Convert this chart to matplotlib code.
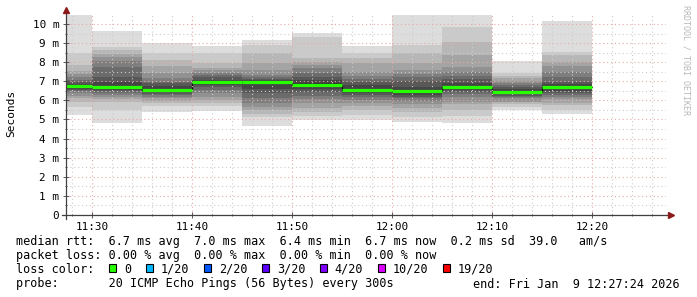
import numpy as np
import matplotlib
matplotlib.use('Agg')
import matplotlib.pyplot as plt
import matplotlib.dates as mdates
from matplotlib.ticker import MultipleLocator, FuncFormatter
from matplotlib.patches import Rectangle
from datetime import datetime, timedelta

t_start = datetime(2026, 1, 9, 11, 27, 24)
t_end = datetime(2026, 1, 9, 12, 27, 24)

# each 300s step ends at these times
bar_end = ['11:30', '11:35', '11:40', '11:45', '11:50', '11:55',
           '12:00', '12:05', '12:10', '12:15', '12:20']
median_ms = [6.74, 6.70, 6.54, 6.95, 6.98, 6.81, 6.53, 6.48, 6.69, 6.42, 6.69]

# 20 sorted ping rtts (ms) per step
pings = [
    [5.24, 5.67, 5.90, 6.11, 6.25, 6.37, 6.48, 6.55, 6.62, 6.70, 6.78, 6.85, 6.95, 7.05, 7.24, 7.40, 7.55, 7.85, 8.47, 10.8],
    [4.80, 5.50, 5.93, 6.05, 6.20, 6.30, 6.40, 6.48, 6.56, 6.64, 6.76, 6.98, 7.20, 7.77, 8.05, 8.29, 8.45, 8.64, 8.81, 9.63],
    [5.41, 5.70, 5.85, 5.95, 6.10, 6.20, 6.30, 6.36, 6.42, 6.47, 6.62, 6.75, 6.89, 6.98, 7.16, 7.42, 7.80, 8.12, 8.47, 8.99],
    [5.45, 5.69, 5.85, 6.00, 6.20, 6.40, 6.55, 6.68, 6.80, 6.90, 6.98, 7.07, 7.20, 7.33, 7.45, 7.59, 7.70, 7.94, 8.47, 8.87],
    [4.68, 5.15, 5.30, 5.50, 5.65, 5.85, 6.10, 6.40, 6.60, 6.90, 7.00, 7.05, 7.10, 7.20, 7.33, 7.59, 7.94, 8.47, 8.90, 9.16],
    [4.97, 5.20, 5.40, 5.60, 5.85, 6.05, 6.25, 6.45, 6.60, 6.72, 6.90, 7.07, 7.25, 7.45, 7.68, 7.85, 8.03, 8.20, 9.30, 9.55],
    [4.97, 5.25, 5.50, 5.70, 5.85, 6.00, 6.20, 6.30, 6.38, 6.46, 6.60, 6.80, 6.98, 7.10, 7.28, 7.50, 7.98, 8.20, 8.47, 8.86],
    [4.89, 5.15, 5.40, 5.60, 5.80, 5.95, 6.10, 6.20, 6.30, 6.40, 6.55, 6.72, 7.00, 7.24, 7.40, 7.59, 7.94, 8.50, 8.90, 10.8],
    [4.83, 5.20, 5.50, 5.80, 5.93, 6.20, 6.35, 6.45, 6.55, 6.62, 6.75, 6.90, 7.10, 7.30, 7.50, 7.77, 8.38, 9.07, 9.86, 10.8],
    [5.50, 5.65, 5.80, 5.90, 5.93, 6.10, 6.18, 6.25, 6.32, 6.38, 6.47, 6.58, 6.70, 6.80, 6.90, 7.00, 7.15, 7.30, 7.45, 8.06],
    [5.29, 5.50, 5.75, 5.85, 6.05, 6.20, 6.28, 6.40, 6.50, 6.62, 6.75, 6.85, 6.98, 7.20, 7.50, 7.80, 8.03, 8.40, 8.55, 10.16],
]

loss_labels = ['0', '1/20', '2/20', '3/20', '4/20', '10/20', '19/20']
loss_colors = ['#26ff00', '#00b8ff', '#0059ff', '#5e00ff', '#7e00ff', '#dd00ff', '#ff0000']

W, H = 697, 297
fig = plt.figure(figsize=(W / 100, H / 100), dpi=100)
fig.patch.set_facecolor('white')
ax = fig.add_axes([66 / W, (H - 215) / H, 600 / W, 200 / H])

ends = [datetime.strptime(s, '%H:%M').replace(year=2026, month=1, day=9) for s in bar_end]
edges = [ends[0] - timedelta(minutes=5)] + ends
xe = mdates.date2num(edges)
P = np.array(pings)

# smoke: nested bands, lightest outside
half = 10
for k in range(1, half + 1):
    g = int(190 / half * (half - k)) + 50
    lo = P[:, k - 1]
    hi = P[:, 20 - k]
    ax.fill_between(xe, np.append(lo, lo[-1]), np.append(hi, hi[-1]),
                    step='post', color=(g / 255,) * 3, lw=0, zorder=1)

med = np.array(median_ms)
ax.step(xe, np.append(med, med[-1]), where='post', color='black', lw=0.8, zorder=2)
ax.hlines(med, xe[:-1], xe[1:], color='#26ff00', lw=2.3, zorder=3)

ax.set_xlim(mdates.date2num(t_start), mdates.date2num(t_end))
ax.set_ylim(0, 10.47)

ax.xaxis.set_major_locator(mdates.MinuteLocator(byminute=range(0, 60, 10)))
ax.xaxis.set_minor_locator(mdates.MinuteLocator(byminute=range(0, 60, 2)))
ax.xaxis.set_major_formatter(mdates.DateFormatter('%H:%M'))
ax.yaxis.set_major_locator(MultipleLocator(1))
ax.yaxis.set_minor_locator(MultipleLocator(0.5))
ax.yaxis.set_major_formatter(FuncFormatter(lambda v, p: '0' if v == 0 else '%d m' % v))

ax.grid(which='major', color='#eaa8a8', linestyle=(0, (1, 2.5)), lw=0.8, zorder=4)
ax.grid(which='minor', color='#cccccc', linestyle=(0, (1, 2.5)), lw=0.8, zorder=4)
ax.set_axisbelow(False)

for s in ax.spines.values():
    s.set_visible(False)
ax.tick_params(which='both', direction='inout', color='#404040', width=0.6,
               labelsize=7.9, labelfontfamily='DejaVu Sans Mono')
ax.tick_params(which='major', length=4, pad=3)
ax.tick_params(which='minor', length=2)

# axes with arrows
ax.plot([-4 / 600, 603 / 600], [0, 0], transform=ax.transAxes, color='#404040', lw=0.9, clip_on=False, zorder=5)
ax.plot([0, 0], [-4 / 200, 203 / 200], transform=ax.transAxes, color='#404040', lw=0.9, clip_on=False, zorder=5)
ax.plot([605 / 600], [0], transform=ax.transAxes, marker='>', color='#8b1a1a', ms=4, clip_on=False, zorder=6)
ax.plot([0], [205 / 200], transform=ax.transAxes, marker='^', color='#8b1a1a', ms=4, clip_on=False, zorder=6)

mono = 'DejaVu Sans Mono'
def ft(x, y, s, **kw):
    fig.text(x / W, 1 - y / H, s, family=mono, **kw)

ft(11, 113, 'Seconds', rotation=90, ha='center', va='center', fontsize=8)
ft(686, 5, 'RRDTOOL / TOBI OETIKER', rotation=-90, ha='center', va='top', fontsize=6, color='#b8b8b8')

fs = 8.5
ft(16, 244.5, 'median rtt:  6.7 ms avg  7.0 ms max  6.4 ms min  6.7 ms now  0.2 ms sd  39.0   am/s', fontsize=fs, va='baseline')
ft(16, 259, 'packet loss: 0.00 % avg  0.00 % max  0.00 % min  0.00 % now', fontsize=fs, va='baseline')
ft(16, 273, 'loss color:', fontsize=fs, va='baseline')
box_x = [109, 146, 204, 262, 320, 378, 443]
lab_x = [124.6, 161, 219, 277, 334.5, 393, 458]
for bx, lx, lab, c in zip(box_x, lab_x, loss_labels, loss_colors):
    fig.patches.append(Rectangle((bx / W, 1 - 272 / H), 7 / W, 8 / H, transform=fig.transFigure,
                                 facecolor=c, edgecolor='black', lw=0.8))
    ft(lx, 273, lab, fontsize=fs, va='baseline')
ft(16, 287.5, 'probe:       20 ICMP Echo Pings (56 Bytes) every 300s', fontsize=fs, va='baseline')
ft(680, 287.5, 'end: Fri Jan  9 12:27:24 2026', fontsize=fs, va='baseline', ha='right')

fig.savefig('out.png', dpi=100)
